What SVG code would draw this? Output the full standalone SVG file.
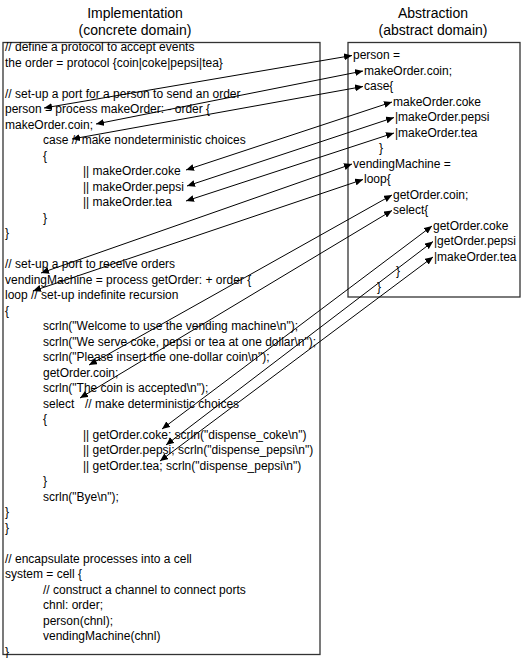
<svg xmlns="http://www.w3.org/2000/svg" width="529" height="658" viewBox="0 0 529 658">
<style>
.box{fill:#fff;stroke:#333;stroke-width:1.3}
.t{font-family:"Liberation Sans",Arial,sans-serif;font-size:12px;fill:#000}
.h{font-family:"Liberation Sans",Arial,sans-serif;font-size:14px;fill:#000;text-anchor:middle}
.c{stroke:#000;stroke-width:1;fill:none;marker-start:url(#ah);marker-end:url(#ah)}
</style>
<defs>
<marker id="ah" markerUnits="userSpaceOnUse" markerWidth="8" markerHeight="7" viewBox="0 0 8 7" refX="8" refY="3.5" orient="auto-start-reverse">
<path d="M0,0 L8,3.5 L0,7 z" fill="#000"/>
</marker>
</defs>
<rect width="529" height="658" fill="#fff"/>
<g id="implementation">
<text class="h" x="135" y="18">Implementation</text>
<text class="h" x="135" y="35">(concrete domain)</text>
<rect class="box" x="3" y="42.5" width="317" height="612"/>
<text class="t">
<tspan x="5" y="51">// define a protocol to accept events</tspan>
<tspan x="5" y="66.5">the order = protocol {coin|coke|pepsi|tea}</tspan>
<tspan x="5" y="97.5">// set-up a port for a person to send an order</tspan>
<tspan x="5" y="113">person = process makeOrder: - order {</tspan>
<tspan x="5" y="128.5">makeOrder.coin;</tspan>
<tspan x="43" y="144">case // make nondeterministic choices</tspan>
<tspan x="43" y="159.5">{</tspan>
<tspan x="83" y="175">|| makeOrder.coke</tspan>
<tspan x="83" y="190.5">|| makeOrder.pepsi</tspan>
<tspan x="83" y="206">|| makeOrder.tea</tspan>
<tspan x="43" y="221.5">}</tspan>
<tspan x="5" y="237">}</tspan>
<tspan x="5" y="268">// set-up a port to receive orders</tspan>
<tspan x="5" y="283.5">vendingMachine = process getOrder: + order {</tspan>
<tspan x="5" y="299">loop // set-up indefinite recursion</tspan>
<tspan x="5" y="314.5">{</tspan>
<tspan x="43" y="330">scrln("Welcome to use the vending machine\n");</tspan>
<tspan x="43" y="345.5">scrln("We serve coke, pepsi or tea at one dollar\n");</tspan>
<tspan x="43" y="361">scrln("Please insert the one-dollar coin\n");</tspan>
<tspan x="43" y="376.5">getOrder.coin;</tspan>
<tspan x="43" y="392">scrln("The coin is accepted\n");</tspan>
<tspan x="43" y="407.5">select</tspan><tspan x="85" y="407.5">// make deterministic choices</tspan>
<tspan x="43" y="423">{</tspan>
<tspan x="83" y="438.5">|| getOrder.coke; scrln("dispense_coke\n")</tspan>
<tspan x="83" y="454">|| getOrder.pepsi; scrln("dispense_pepsi\n")</tspan>
<tspan x="83" y="469.5">|| getOrder.tea; scrln("dispense_pepsi\n")</tspan>
<tspan x="43" y="485">}</tspan>
<tspan x="43" y="500.5">scrln("Bye\n");</tspan>
<tspan x="5" y="516">}</tspan>
<tspan x="5" y="531.5">}</tspan>
<tspan x="5" y="562.5">// encapsulate processes into a cell</tspan>
<tspan x="5" y="578">system = cell {</tspan>
<tspan x="43" y="593.5">// construct a channel to connect ports</tspan>
<tspan x="43" y="609">chnl: order;</tspan>
<tspan x="43" y="624.5">person(chnl);</tspan>
<tspan x="43" y="640">vendingMachine(chnl)</tspan>
<tspan x="5" y="655.5">}</tspan>
</text>
</g>
<g id="abstraction">
<text class="h" x="433" y="18">Abstraction</text>
<text class="h" x="433" y="35">(abstract domain)</text>
<rect class="box" x="348" y="42.5" width="172" height="254.5"/>
<text class="t">
<tspan x="353" y="59">person =</tspan>
<tspan x="364" y="74.5">makeOrder.coin;</tspan>
<tspan x="364" y="90">case{</tspan>
<tspan x="393" y="105.5">makeOrder.coke</tspan>
<tspan x="395" y="121">|makeOrder.pepsi</tspan>
<tspan x="395" y="136.5">|makeOrder.tea</tspan>
<tspan x="379" y="152">}</tspan>
<tspan x="353" y="167.5">vendingMachine =</tspan>
<tspan x="364" y="183">loop{</tspan>
<tspan x="393" y="198.5">getOrder.coin;</tspan>
<tspan x="393" y="214">select{</tspan>
<tspan x="433" y="229.5">getOrder.coke</tspan>
<tspan x="434" y="245">|getOrder.pepsi</tspan>
<tspan x="434" y="260.5">|makeOrder.tea</tspan>
<tspan x="396" y="275">}</tspan>
<tspan x="377" y="291">}</tspan>
</text>
</g>
<g id="connectors">
<line class="c" x1="44" y1="108" x2="352" y2="55.5"/>
<line class="c" x1="96" y1="124" x2="363" y2="71"/>
<line class="c" x1="72" y1="139" x2="363" y2="86.5"/>
<line class="c" x1="186" y1="170" x2="392" y2="102"/>
<line class="c" x1="187" y1="186" x2="394" y2="117.5"/>
<line class="c" x1="186" y1="201" x2="394" y2="133"/>
<line class="c" x1="41" y1="273" x2="352" y2="164"/>
<line class="c" x1="33" y1="291" x2="363" y2="179.5"/>
<line class="c" x1="89" y1="365" x2="392" y2="195"/>
<line class="c" x1="80" y1="398" x2="392" y2="210.5"/>
<line class="c" x1="162" y1="429" x2="432" y2="226"/>
<line class="c" x1="166" y1="445" x2="433" y2="241.5"/>
<line class="c" x1="160" y1="461" x2="433" y2="257"/>
</g>
</svg>
